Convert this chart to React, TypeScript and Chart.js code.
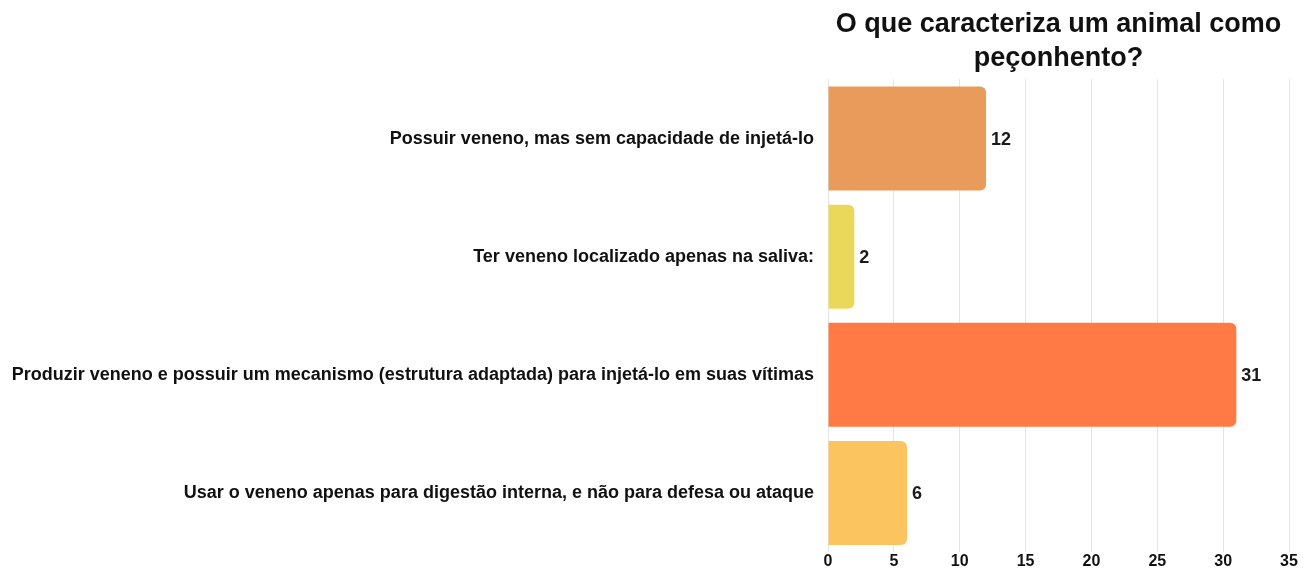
import React, { useEffect, useRef } from "react";
import { Chart, registerables } from "chart.js";

Chart.register(...registerables);

const categories = [
  "Possuir veneno, mas sem capacidade de injetá-lo",
  "Ter veneno localizado apenas na saliva:",
  "Produzir veneno e possuir um mecanismo (estrutura adaptada) para injetá-lo em suas vítimas",
  "Usar o veneno apenas para digestão interna, e não para defesa ou ataque",
];
const values = [12, 2, 31, 6];
const barColors = ["#E99B5C", "#EAD85A", "#FF7A45", "#FCC45E"];
const titleLines = ["O que caracteriza um animal como", "peçonhento?"];
const xMax = 35;
const xStep = 5;

const FONT = "'Liberation Sans', Arial, sans-serif";

const valueLabels = {
  id: "valueLabels",
  afterDatasetsDraw(chart: any) {
    const ctx = chart.ctx;
    const meta = chart.getDatasetMeta(0);
    ctx.save();
    ctx.font = `bold 18px ${FONT}`;
    ctx.fillStyle = "#1a1a1a";
    ctx.textAlign = "left";
    ctx.textBaseline = "middle";
    meta.data.forEach((bar: any, i: number) => {
      ctx.fillText(String(values[i]), bar.x + 5, bar.y + 1);
    });
    ctx.restore();
  },
};

export default function App() {
  const ref = useRef<HTMLCanvasElement | null>(null);
  useEffect(() => {
    document.body.style.margin = "0";
    const chart = new Chart(ref.current!, {
      type: "bar",
      data: {
        labels: categories,
        datasets: [
          {
            data: values,
            backgroundColor: barColors,
            borderRadius: 6,
            borderSkipped: "start",
            barPercentage: 0.88,
            categoryPercentage: 1,
          },
        ],
      },
      options: {
        indexAxis: "y",
        animation: false,
        responsive: false,
        maintainAspectRatio: false,
        layout: { padding: { left: 0, right: 18, top: 0, bottom: 0 } },
        plugins: {
          legend: { display: false },
          tooltip: { enabled: false },
          title: {
            display: true,
            text: titleLines,
            fullSize: false,
            color: "#111",
            font: { family: FONT, size: 27, weight: "bold", lineHeight: 1.25 },
            padding: { top: 8, bottom: 4 },
          },
        },
        scales: {
          x: {
            min: 0,
            max: xMax,
            ticks: {
              stepSize: xStep,
              color: "#111",
              padding: 0,
              font: { family: FONT, size: 16, weight: "bold" },
            },
            grid: { color: "#e4e4e4", drawTicks: false },
            border: { display: false },
            afterFit(scale: any) {
              scale.height = 17;
            },
          },
          y: {
            ticks: {
              color: "#111",
              padding: 14,
              font: { family: FONT, size: 18, weight: "bold" },
            },
            grid: { display: false, drawTicks: false },
            border: { display: false },
            afterFit(scale: any) {
              scale.width = 828;
              scale.paddingTop = 0;
              scale.paddingBottom = 0;
            },
          },
        },
      },
      plugins: [valueLabels],
    });
    return () => chart.destroy();
  }, []);
  return <canvas ref={ref} width={1307} height={569} style={{ display: "block" }} />;
}
